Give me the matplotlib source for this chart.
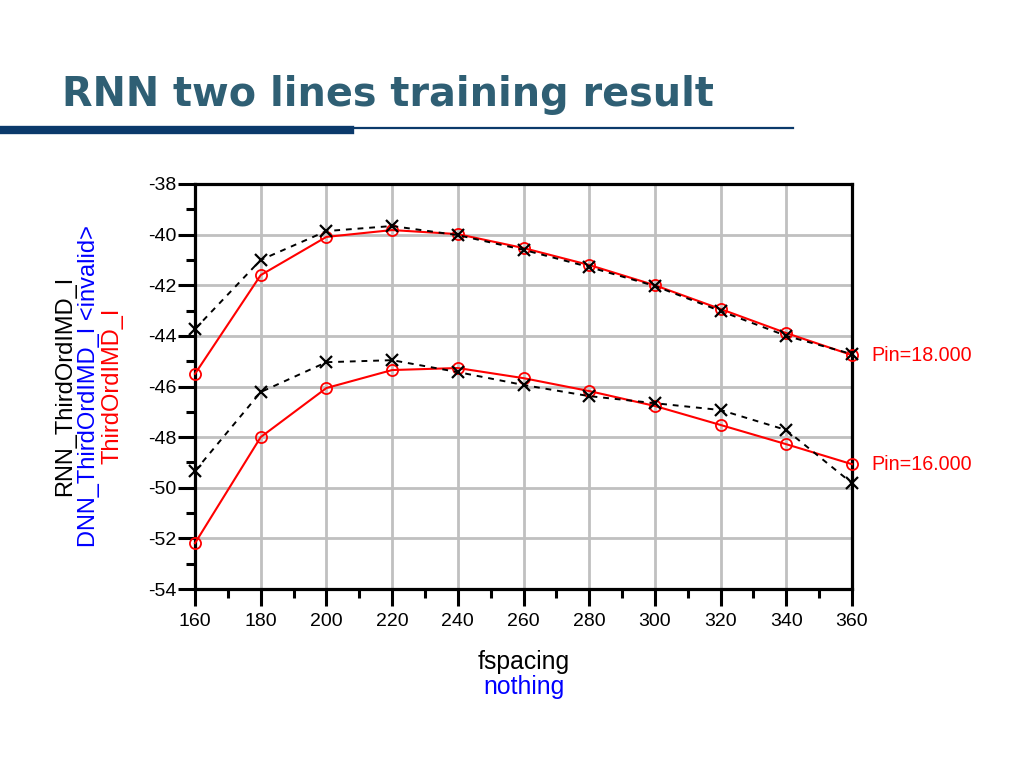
import matplotlib
matplotlib.use("Agg")
import matplotlib.pyplot as plt
from matplotlib.ticker import MultipleLocator

fspacing = [160, 180, 200, 220, 240, 260, 280, 300, 320, 340, 360]
rnn_pin18 = [-43.73, -41.0, -39.86, -39.66, -40.02, -40.6, -41.28, -42.03, -43.02, -44.0, -44.72]
ref_pin18 = [-45.5, -41.6, -40.09, -39.82, -39.98, -40.53, -41.2, -42.0, -42.94, -43.89, -44.76]
rnn_pin16 = [-49.34, -46.22, -45.04, -44.96, -45.43, -45.94, -46.38, -46.66, -46.93, -47.72, -49.82]
ref_pin16 = [-52.19, -48.0, -46.06, -45.35, -45.27, -45.67, -46.18, -46.77, -47.52, -48.28, -49.07]
pin_labels = ["Pin=18.000", "Pin=16.000"]

plt.rcParams['font.family'] = ['Liberation Sans', 'DejaVu Sans']
plt.rcParams['axes.unicode_minus'] = False

W, H = 1024, 768
fig = plt.figure(figsize=(W / 100, H / 100), dpi=100)

# Slide title and rules
fig.text(62 / W, 1 - 95 / H, "RNN two lines training result", fontsize=28.6,
         fontweight='bold', color='#2f5f74', family='DejaVu Sans',
         ha='left', va='center')
fig.add_artist(plt.Line2D([0, 350 / W], [1 - 130 / H] * 2, color='#0b3a6b', lw=6,
                          transform=fig.transFigure))
fig.add_artist(plt.Line2D([350 / W, 793 / W], [1 - 128 / H] * 2, color='#0b3a6b', lw=1.6,
                          transform=fig.transFigure))

ax = fig.add_axes([195 / W, 1 - 589 / H, (852 - 195) / W, (589 - 184) / H])

ax.plot(fspacing, ref_pin18, color='#ff0000', lw=1.5, marker='o', ms=8,
        mfc='none', mec='#ff0000', mew=1.3, zorder=3)
ax.plot(fspacing, ref_pin16, color='#ff0000', lw=1.5, marker='o', ms=8,
        mfc='none', mec='#ff0000', mew=1.3, zorder=3)
ax.plot(fspacing, rnn_pin18, color='black', lw=1.4, ls=(0, (3, 3)), marker='x', ms=9,
        mew=1.6, zorder=4)
ax.plot(fspacing, rnn_pin16, color='black', lw=1.4, ls=(0, (3, 3)), marker='x', ms=9,
        mew=1.6, zorder=4)

ax.set_xlim(160, 360)
ax.set_ylim(-54, -38)
ax.xaxis.set_major_locator(MultipleLocator(20))
ax.xaxis.set_minor_locator(MultipleLocator(10))
ax.yaxis.set_major_locator(MultipleLocator(2))
ax.yaxis.set_minor_locator(MultipleLocator(1))
ax.grid(True, which='major', color='#c0c0c0', lw=2)
ax.set_axisbelow(True)
for s in ax.spines.values():
    s.set_linewidth(2.3)
    s.set_color('black')
ax.tick_params(which='major', direction='out', length=12.5, width=2.2, labelsize=14)
ax.tick_params(axis='x', which='major', pad=5)
ax.tick_params(axis='y', which='major', pad=1)
ax.tick_params(which='minor', direction='out', length=6.5, width=2.2)
for line in ax.lines:
    line.set_clip_on(False)

# Right side labels
ax.annotate(pin_labels[0], xy=(360, ref_pin18[-1]), xytext=(14, 0),
            textcoords='offset points', color='#ff0000', fontsize=14.2,
            va='center', ha='left')
ax.annotate(pin_labels[1], xy=(360, ref_pin16[-1]), xytext=(14, 0),
            textcoords='offset points', color='#ff0000', fontsize=14.2,
            va='center', ha='left')

# Y labels (three stacked rotated lines)
ycen = 1 - 386 / H
fig.text(65 / W, ycen, "RNN_ThirdOrdIMD_I", rotation=90, color='black',
         fontsize=17, ha='center', va='center')
fig.text(89 / W, ycen, "DNN_ThirdOrdIMD_I <invalid>", rotation=90, color='#0000ff',
         fontsize=17, ha='center', va='center')
fig.text(113 / W, ycen, "ThirdOrdIMD_I", rotation=90, color='#ff0000',
         fontsize=17, ha='center', va='center')

# X labels
xcen = 524 / W
fig.text(xcen, 1 - 662 / H, "fspacing", color='black', fontsize=17.8,
         ha='center', va='center')
fig.text(xcen, 1 - 687 / H, "nothing", color='#0000ff', fontsize=17.8,
         ha='center', va='center')

fig.savefig("out.png", dpi=100)
